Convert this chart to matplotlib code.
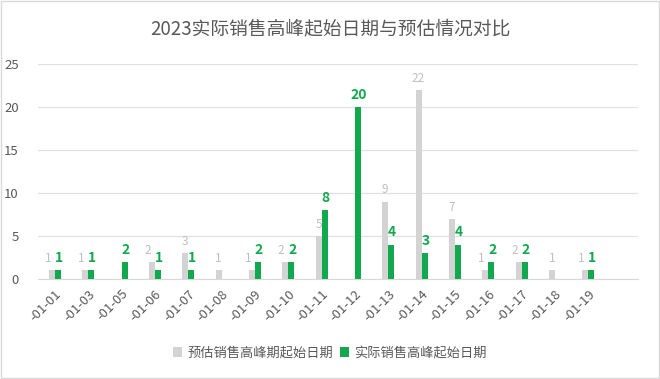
import matplotlib
matplotlib.use("Agg")
import matplotlib.pyplot as plt
import numpy as np

plt.rcParams["font.family"] = ["Noto Sans CJK SC", "DejaVu Sans"]
plt.rcParams["axes.unicode_minus"] = False

# 日期类别与两组数值
dates = ["-01-01", "-01-03", "-01-05", "-01-06", "-01-07", "-01-08", "-01-09",
         "-01-10", "-01-11", "-01-12", "-01-13", "-01-14", "-01-15", "-01-16",
         "-01-17", "-01-18", "-01-19"]
estimated = [1, 1, 0, 2, 3, 1, 1, 2, 5, 0, 9, 22, 7, 1, 2, 1, 1]
actual = [1, 1, 2, 1, 1, 0, 2, 2, 8, 20, 4, 3, 4, 2, 2, 0, 1]

GRAY = "#d3d3d3"
GREEN = "#12a84e"
TXT = "#595959"

fig = plt.figure(figsize=(6.6, 3.79), dpi=100)
fig.patches.append(plt.Rectangle((0.002, 0.003), 0.996, 0.994, transform=fig.transFigure,
                                 fill=False, edgecolor="#d9d9d9", lw=1))
ax = fig.add_axes([0.058, 0.264, 0.909, 0.567])

x = np.arange(len(dates))
w = 0.18
b1 = ax.bar(x - w / 2, estimated, width=w, color=GRAY, label="预估销售高峰期起始日期", zorder=2)
b2 = ax.bar(x + w / 2, actual, width=w, color=GREEN, label="实际销售高峰起始日期", zorder=3)

# 灰色标签略向左偏，减少与绿色标签的重叠
for r, v, a in zip(b1, estimated, actual):
    if v:
        dx = -0.12 if a and abs(a - v) < 2 else 0
        ax.text(r.get_x() + r.get_width() / 2 + dx, v + 0.6, str(v), ha="center", va="bottom",
                fontsize=8.5, color="#bfbfbf", zorder=4)
for r, v in zip(b2, actual):
    if v:
        ax.text(r.get_x() + r.get_width() / 2 + 0.03, v + 0.6, str(v), ha="center", va="bottom",
                fontsize=10, color=GREEN, fontweight="bold", zorder=5)

ax.set_xlim(-0.5, len(dates) + 0.5)
ax.set_ylim(0, 25)
ax.set_yticks([0, 5, 10, 15, 20, 25])
ax.set_xticks(x)
ax.set_xticklabels(dates, rotation=45, ha="right", rotation_mode="anchor")
ax.tick_params(axis="both", length=0, colors=TXT, labelsize=9.5)
ax.tick_params(axis="y", pad=14)
ax.tick_params(axis="x", pad=6)
ax.grid(axis="y", color="#e0e0e0", lw=0.9, zorder=0)
for s in ("top", "right", "left"):
    ax.spines[s].set_visible(False)
ax.spines["bottom"].set_color("#d9d9d9")

fig.text(0.5, 0.925, "2023实际销售高峰起始日期与预估情况对比", ha="center", va="center",
         fontsize=13.5, color=TXT)
fig.legend(loc="center", bbox_to_anchor=(0.5, 0.068), ncol=2, frameon=False,
           fontsize=9.5, handlelength=0.7, handleheight=0.7, handletextpad=0.4,
           columnspacing=0.5, labelcolor=TXT)

fig.savefig("out.png", dpi=100)
